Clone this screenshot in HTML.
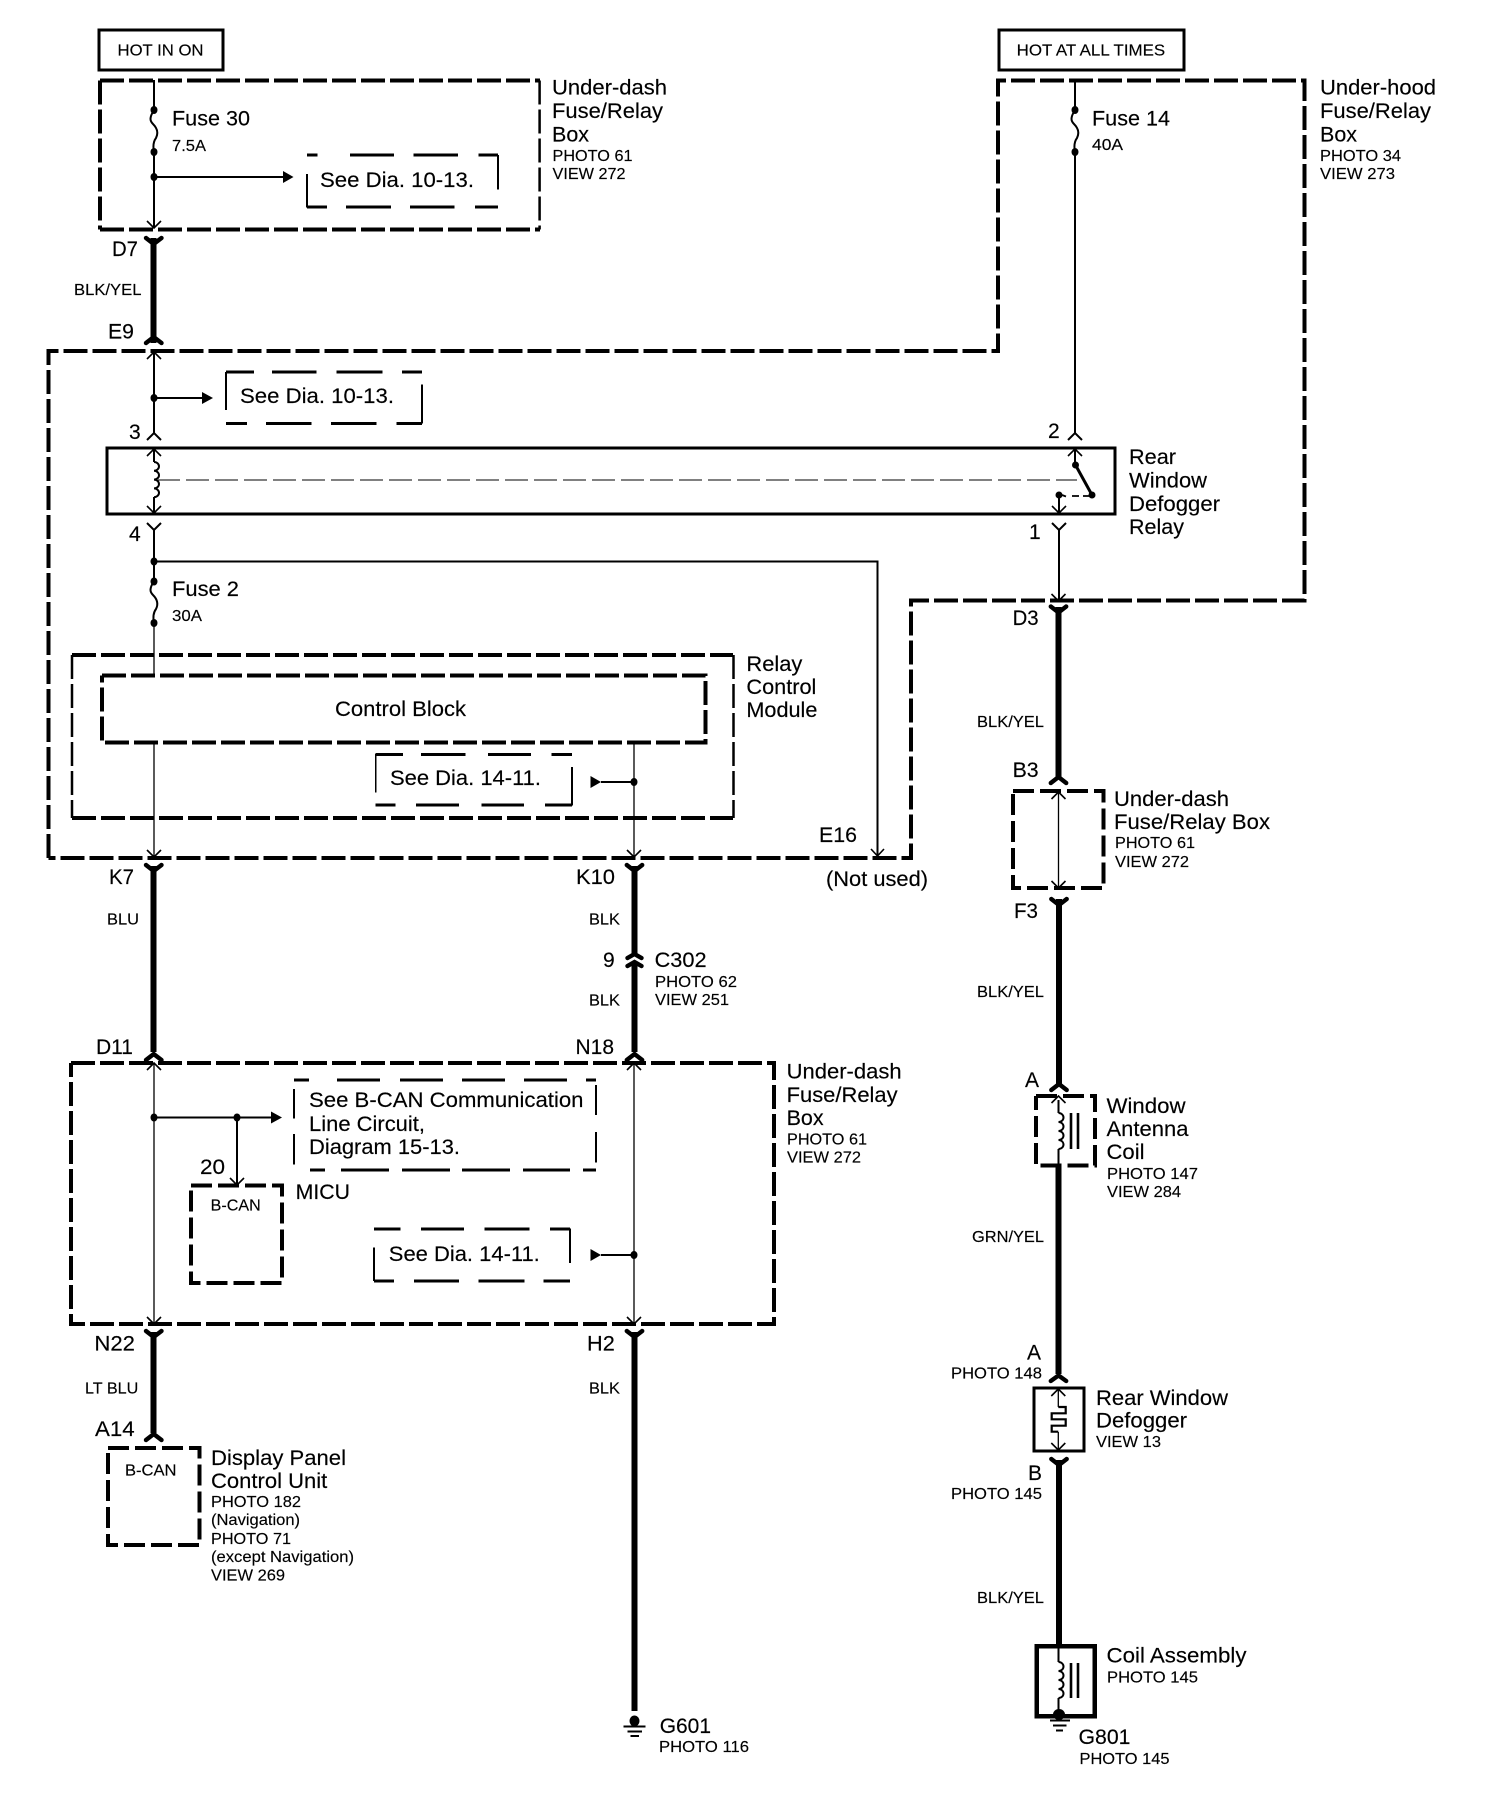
<!DOCTYPE html>
<html><head><meta charset="utf-8"><style>
html,body{margin:0;padding:0;background:#fff}
svg{display:block}
text{font-family:"Liberation Sans",sans-serif;fill:#000;stroke:#000;stroke-width:.15}
.b{font-size:21px;transform:translateX(-1px)}.s{font-size:16px}.m{font-size:16px}
.w{fill:none;stroke:#000}
</style></head><body>
<svg xmlns="http://www.w3.org/2000/svg" width="1504" height="1798" viewBox="0 0 1504 1798">
<rect width="1504" height="1798" fill="#fff"/>
<!-- plain boxes -->
<g class="w" stroke-width="3.2" shape-rendering="crispEdges">
<rect x="99" y="30" width="124" height="40"/>
<rect x="999" y="30" width="185" height="40"/>
<rect x="107" y="448" width="1008" height="66"/>
<rect x="1034" y="1388" width="50" height="63"/>
</g>
<rect class="w" x="1036.5" y="1646" width="58" height="70" stroke-width="4.5" shape-rendering="crispEdges"/>
<!-- big dashed boxes -->
<g class="w" stroke-width="4" stroke-dasharray="24 5">
<path d="M100 80.5H540"/><path d="M100 229.5H540"/><path d="M100 80.5V229.5"/>
<path d="M539.6 80.5V229.5" stroke-width="2.5"/>
<path d="M48.5 858V351H998V80.5H1304.5V600.5H911V858H48.5"/>
<path d="M72 655H733"/><path d="M72 818H733"/><path d="M72 655V818" stroke-width="2.5"/><path d="M733.5 655V818" stroke-width="2.5"/>
<path d="M102 675.5H705.5V742.5H102V675.5"/>
<path d="M71 1063H774V1324H71V1063"/>
</g>
<g class="w" stroke-width="4" stroke-dasharray="21 6">
<path d="M1013 791H1103.5V888H1013V791"/>
<path d="M191 1185.5H282V1283H191V1185.5"/>
<path d="M108 1448H199.5V1545H108V1448"/>
<path d="M1036 1096H1095V1165.5H1036V1096"/>
</g>
<!-- thin dashed See Dia boxes -->
<g class="w" stroke-width="2.6" shape-rendering="crispEdges">
<path d="M307 155H317.5M350 155H394M413.4 155H458M478.6 155H498M307 207H327M346 207H391M410 207H454.7M474.8 207H498"/>
<path d="M226 372H254M272 372H316.5M336.7 372H382.7M402 372H422M226 423.5H247M266 423.5H311.7M331 423.5H376.5M396.6 423.5H422"/>
<path d="M375.6 754.5H403M421 754.5H465.5M488 754.5H531M551.7 754.5H572M375.6 805H395.4M415.8 805H459M481.5 805H524M545 805H572"/>
<path d="M294 1080H309M337 1080H380M400 1080H443M462 1080H505M524 1080H567M586 1080H596M310 1170H325M341 1170H389M402 1170H450M462 1170H510M523 1170H570M583 1170H596"/>
<path d="M374 1229H400.5M421 1229H464M484.7 1229H529.6M550 1229H570M374 1281H394M414 1281H459M478.6 1281H524.5M543.4 1281H570"/>
</g>
<g class="w" stroke-width="1.6" shape-rendering="crispEdges">
<path d="M307 174V207.5M498 155V189.5"/>
<path d="M226 372V410M422 384.6V423.6"/>
<path d="M375.6 754V792.5M572 767V805.5"/>
<path d="M294 1089V1118.6M294 1134V1164.5M596 1085V1115M596 1132V1162.5"/>
<path d="M374 1247.7V1281M570 1228.6V1263"/>
</g>
<!-- thick wires -->
<g class="w" stroke-width="6" shape-rendering="crispEdges">
<path d="M153.7 238V343M153.7 866V1052M634.5 866V954M634.5 962V1052M153.7 1332V1433M634.5 1332V1711"/>
<path d="M1058.5 607V777M1059 899V1085M1058.5 1166V1374M1059 1460V1646"/>
</g>
<!-- thin wires -->
<g class="w" stroke-width="2">
<path d="M154 80V110M154 152V228M154 177H285"/>
<path d="M154 352V433M154 398H204"/>
<path d="M154 449V462M154 497V512M154 529V581M154 561.5H877.5V855"/>
<path d="M1075 80V110M1075 152V433M1075 449V465"/>
<path d="M1059 497V512M1059 529V600"/>
<path d="M154 1117.5H273M237 1117.5V1184"/>
<path d="M601 782H634M601 1255H634"/>
<path d="M1058.5 1100V1113M1058.5 1149V1166"/>
<path d="M1058.5 1646V1662M1058.5 1698V1716"/>
</g>
<g class="w" stroke-width="1.3">
<path d="M154 623V675M154 742V856M634 742V856M154 1064V1322M634 1064V1322M1058.5 792V886"/>
<path d="M1058.3 1390V1407M1058.3 1432V1450"/>
</g>
<!-- fuses -->
<g class="w" stroke-width="2">
<path d="M154 110C149 118 150 121 153 124C158 129 158 134 156 138C153 142 153 147 154 152"/>
<path d="M1075 110C1070 118 1071 121 1074 124C1079 129 1079 134 1077 138C1074 142 1074 147 1075 152"/>
<path d="M154 581C149 589 150 592 153 595C158 600 158 605 156 609C153 613 153 618 154 623"/>
<path d="M154 462a5 4.4 0 0 1 0 8.8a5 4.4 0 0 1 0 8.8a5 4.4 0 0 1 0 8.8a5 4.4 0 0 1 0 8.8"/>
<path d="M1058.5 1113a5 4.5 0 0 1 0 9a5 4.5 0 0 1 0 9a5 4.5 0 0 1 0 9a5 4.5 0 0 1 0 9"/>
<path d="M1058.5 1662a5 4.5 0 0 1 0 9a5 4.5 0 0 1 0 9a5 4.5 0 0 1 0 9a5 4.5 0 0 1 0 9"/>
<path stroke-width="2.2" d="M1058.3 1407H1065.7V1413.3H1051.7V1419.3H1065.7V1425.7H1051.7V1431.7H1058.3"/>
</g>
<g class="w" stroke-width="2.6">
<path d="M1071 1113V1149M1078 1113V1149M1071 1663V1698M1078 1663V1698"/>
</g>
<!-- dots -->
<g fill="#000">
<ellipse cx="154" cy="110" rx="3.5" ry="4"/><ellipse cx="154" cy="152" rx="3.5" ry="4"/><ellipse cx="154" cy="177" rx="3.5" ry="4"/>
<ellipse cx="154" cy="398" rx="3.5" ry="4"/><ellipse cx="154" cy="561.5" rx="3.5" ry="4"/><ellipse cx="154" cy="581.5" rx="3.5" ry="4"/><ellipse cx="154" cy="623" rx="3.5" ry="4"/>
<ellipse cx="1075" cy="110" rx="3.5" ry="4"/><ellipse cx="1075" cy="152" rx="3.5" ry="4"/>
<circle cx="1075.5" cy="465" r="3.5"/><circle cx="1092" cy="495" r="3.5"/><circle cx="1059" cy="495" r="3.5"/>
<ellipse cx="634" cy="782" rx="3.5" ry="4"/><ellipse cx="634" cy="1255" rx="3.5" ry="4"/>
<ellipse cx="154" cy="1117.5" rx="3.5" ry="4"/><ellipse cx="237" cy="1117.5" rx="3.5" ry="4"/>
<ellipse cx="634.5" cy="1721" rx="5" ry="5.5"/><ellipse cx="1059" cy="1714.5" rx="6" ry="5.5"/>
<!-- filled arrows -->
<path d="M293.5 177L283 171V183Z"/><path d="M213 398L202 392V404Z"/><path d="M282 1117.5L271 1111.5V1123.5Z"/>
<path d="M601 782L590.5 776V788Z"/><path d="M601 1255L590.5 1249V1261Z"/>
</g>
<!-- switch -->
<path class="w" stroke-width="3" d="M1075.5 465L1092 495"/>
<path class="w" stroke-width="1.8" d="M1062 495l4 1.5M1072 496h7M1083 496h6"/>
<path class="w" stroke-width="1.1" d="M158 480H180M186 480H209M215 480H238M244 480H267M273 480H296M302 480H325M331 480H354M360 480H383M389 480H412M418 480H441M447 480H470M476 480H499M505 480H528M534 480H557M563 480H586M592 480H615M621 480H644M650 480H673M679 480H702M708 480H731M737 480H760M766 480H789M795 480H818M824 480H847M853 480H876M882 480H905M911 480H934M940 480H963M969 480H992M998 480H1021M1027 480H1050M1056 480H1077"/>
<!-- ground -->
<g class="w" stroke-width="2.2" shape-rendering="crispEdges">
<path d="M623.5 1726.5H645.5M627.5 1731.5H642M630.6 1736H639"/>
<path d="M1050 1720.5H1070M1053 1725.5H1066.5M1056 1730.5H1063"/>
</g>
<!-- thick connector forks -->
<g class="w" stroke-width="4.4" stroke-linecap="round">
<path d="M146 238L153.7 244L161.5 238"/><path d="M146 865L153.7 871L161.5 865"/><path d="M626.8 865L634.5 871L642.2 865"/>
<path d="M146 1331L153.7 1337L161.5 1331"/><path d="M626.8 1331L634.5 1337L642.2 1331"/>
<path d="M1050.8 606.5L1058.5 612.5L1066.2 606.5"/><path d="M1051.3 899L1059 905L1066.7 899"/><path d="M1051.3 1459L1059 1465L1066.7 1459"/>
<path d="M146 343L153.7 337L161.5 343"/><path d="M146 1060L153.7 1054L161.5 1060"/><path d="M626.8 1060L634.5 1054L642.2 1060"/>
<path d="M146 1440L153.7 1434L161.5 1440"/>
<path d="M627.5 958L634.5 954L641.5 958"/><path d="M627.5 966L634.5 962L641.5 966"/>
<path d="M1050.8 783L1058.5 777L1066.2 783"/><path d="M1051.3 1090L1059 1084L1066.7 1090"/><path d="M1050.8 1381L1058.5 1375.5L1066.2 1381"/>
</g>
<!-- thin chevrons -->
<g class="w" stroke-width="2">
<path d="M147 440L154 433L161 440"/><path d="M1068 440L1075 433L1082 440"/>
<path d="M147 523L154 530L161 523"/><path d="M1052 523L1059 530L1066 523"/>
</g>
<!-- inner arrows -->
<g class="w" stroke-width="1.6">
<path d="M147 221L154 228L161 221"/><path d="M147 359L154 352L161 359"/>
<path d="M147 456L154 449L161 456"/><path d="M147 506L154 513L161 506"/>
<path d="M1068 456L1075 449L1082 456"/><path d="M1052 506L1059 513L1066 506"/>
<path d="M1051.5 594L1058.5 601L1065.5 594"/>
<path d="M871 849L877.5 856L884 849"/>
<path d="M147 850L154 857L161 850"/><path d="M627 850L634 857L641 850"/>
<path d="M147 1070L154 1063L161 1070"/><path d="M627 1070L634 1063L641 1070"/>
<path d="M147 1317L154 1324L161 1317"/><path d="M627 1317L634 1324L641 1317"/>
<path d="M230 1178L237 1185L244 1178"/>
<path d="M1051.5 799L1058.5 792L1065.5 799"/><path d="M1051.5 881L1058.5 888L1065.5 881"/>
<path d="M1051.5 1103L1058.5 1096L1065.5 1103"/>
<path d="M1051.3 1396L1058.3 1389L1065.3 1396"/><path d="M1051.3 1443L1058.3 1450L1065.3 1443"/>
</g>
<!-- text -->
<text class="s" x="117.5" y="55.5" textLength="86" lengthAdjust="spacingAndGlyphs">HOT IN ON</text>
<text class="s" x="1016.7" y="55.5" textLength="148.5" lengthAdjust="spacingAndGlyphs">HOT AT ALL TIMES</text>
<text class="b" x="173" y="125.5" textLength="78" lengthAdjust="spacingAndGlyphs">Fuse 30</text>
<text class="s" x="172" y="151" textLength="34" lengthAdjust="spacingAndGlyphs">7.5A</text>
<text class="b" x="321" y="187" textLength="154" lengthAdjust="spacingAndGlyphs">See Dia. 10-13.</text>
<text class="b" x="553" y="94.5" textLength="115" lengthAdjust="spacingAndGlyphs">Under-dash</text>
<text class="b" x="553" y="118" textLength="111" lengthAdjust="spacingAndGlyphs">Fuse/Relay</text>
<text class="b" x="553" y="141.5" textLength="37" lengthAdjust="spacingAndGlyphs">Box</text>
<text class="s" x="552.5" y="161" textLength="80" lengthAdjust="spacingAndGlyphs">PHOTO 61</text>
<text class="s" x="552.5" y="179" textLength="73" lengthAdjust="spacingAndGlyphs">VIEW 272</text>
<text class="b" x="113" y="256" textLength="26" lengthAdjust="spacingAndGlyphs">D7</text>
<text class="s" x="74" y="295" textLength="67.5" lengthAdjust="spacingAndGlyphs">BLK/YEL</text>
<text class="b" x="109" y="338.5" textLength="26" lengthAdjust="spacingAndGlyphs">E9</text>
<text class="b" x="241" y="403" textLength="154" lengthAdjust="spacingAndGlyphs">See Dia. 10-13.</text>
<text class="b" x="130" y="439">3</text>
<text class="b" x="1049" y="438">2</text>
<text class="b" x="130" y="541">4</text>
<text class="b" x="1030" y="539">1</text>
<text class="b" x="173" y="596" textLength="67" lengthAdjust="spacingAndGlyphs">Fuse 2</text>
<text class="s" x="172" y="621" textLength="30" lengthAdjust="spacingAndGlyphs">30A</text>
<text class="b" x="1093" y="125.5" textLength="78" lengthAdjust="spacingAndGlyphs">Fuse 14</text>
<text class="s" x="1092" y="150" textLength="31" lengthAdjust="spacingAndGlyphs">40A</text>
<text class="b" x="1321" y="94.5" textLength="116" lengthAdjust="spacingAndGlyphs">Under-hood</text>
<text class="b" x="1321" y="118" textLength="111" lengthAdjust="spacingAndGlyphs">Fuse/Relay</text>
<text class="b" x="1321" y="141.5" textLength="37" lengthAdjust="spacingAndGlyphs">Box</text>
<text class="s" x="1320" y="161" textLength="81" lengthAdjust="spacingAndGlyphs">PHOTO 34</text>
<text class="s" x="1320" y="179" textLength="75" lengthAdjust="spacingAndGlyphs">VIEW 273</text>
<text class="b" x="1130" y="464" textLength="47" lengthAdjust="spacingAndGlyphs">Rear</text>
<text class="b" x="1130" y="487.5" textLength="78" lengthAdjust="spacingAndGlyphs">Window</text>
<text class="b" x="1130" y="511" textLength="91" lengthAdjust="spacingAndGlyphs">Defogger</text>
<text class="b" x="1130" y="534" textLength="55" lengthAdjust="spacingAndGlyphs">Relay</text>
<text class="b" x="336" y="716" textLength="131" lengthAdjust="spacingAndGlyphs">Control Block</text>
<text class="b" x="747.4" y="670.8" textLength="56" lengthAdjust="spacingAndGlyphs">Relay</text>
<text class="b" x="747.4" y="694" textLength="70" lengthAdjust="spacingAndGlyphs">Control</text>
<text class="b" x="747.4" y="717" textLength="71" lengthAdjust="spacingAndGlyphs">Module</text>
<text class="b" x="391" y="785" textLength="151" lengthAdjust="spacingAndGlyphs">See Dia. 14-11.</text>
<text class="b" x="820" y="842" textLength="38" lengthAdjust="spacingAndGlyphs">E16</text>
<text class="b" x="827" y="886" textLength="102" lengthAdjust="spacingAndGlyphs">(Not used)</text>
<text class="b" x="110" y="884" textLength="25" lengthAdjust="spacingAndGlyphs">K7</text>
<text class="s" x="107" y="924.5" textLength="32" lengthAdjust="spacingAndGlyphs">BLU</text>
<text class="b" x="577" y="884" textLength="39" lengthAdjust="spacingAndGlyphs">K10</text>
<text class="s" x="589" y="924.5" textLength="31" lengthAdjust="spacingAndGlyphs">BLK</text>
<text class="b" x="604" y="967">9</text>
<text class="b" x="655.6" y="967" textLength="52" lengthAdjust="spacingAndGlyphs">C302</text>
<text class="s" x="655" y="987" textLength="82" lengthAdjust="spacingAndGlyphs">PHOTO 62</text>
<text class="s" x="655" y="1005" textLength="74" lengthAdjust="spacingAndGlyphs">VIEW 251</text>
<text class="s" x="589" y="1005.5" textLength="31" lengthAdjust="spacingAndGlyphs">BLK</text>
<text class="b" x="97" y="1054" textLength="37" lengthAdjust="spacingAndGlyphs">D11</text>
<text class="b" x="576.5" y="1054" textLength="38.5" lengthAdjust="spacingAndGlyphs">N18</text>
<text class="b" x="787.6" y="1078.4" textLength="115" lengthAdjust="spacingAndGlyphs">Under-dash</text>
<text class="b" x="787.6" y="1102" textLength="111" lengthAdjust="spacingAndGlyphs">Fuse/Relay</text>
<text class="b" x="787.6" y="1125" textLength="37" lengthAdjust="spacingAndGlyphs">Box</text>
<text class="s" x="787" y="1144.6" textLength="80" lengthAdjust="spacingAndGlyphs">PHOTO 61</text>
<text class="s" x="787" y="1162.6" textLength="74" lengthAdjust="spacingAndGlyphs">VIEW 272</text>
<text class="b" x="310" y="1107" textLength="274.5" lengthAdjust="spacingAndGlyphs">See B-CAN Communication</text>
<text class="b" x="310" y="1131" textLength="116" lengthAdjust="spacingAndGlyphs">Line Circuit,</text>
<text class="b" x="310" y="1154" textLength="151" lengthAdjust="spacingAndGlyphs">Diagram 15-13.</text>
<text class="b" x="201" y="1174" textLength="25" lengthAdjust="spacingAndGlyphs">20</text>
<text class="b" x="296.6" y="1199" textLength="54.4" lengthAdjust="spacingAndGlyphs">MICU</text>
<text class="s" x="210.7" y="1210.7" textLength="50" lengthAdjust="spacingAndGlyphs">B-CAN</text>
<text class="b" x="389.8" y="1261" textLength="151" lengthAdjust="spacingAndGlyphs">See Dia. 14-11.</text>
<text class="b" x="95.4" y="1350.6" textLength="40.6" lengthAdjust="spacingAndGlyphs">N22</text>
<text class="b" x="588" y="1350.6" textLength="27.8" lengthAdjust="spacingAndGlyphs">H2</text>
<text class="s" x="85" y="1393.7" textLength="53.3" lengthAdjust="spacingAndGlyphs">LT BLU</text>
<text class="s" x="589" y="1393.7" textLength="31" lengthAdjust="spacingAndGlyphs">BLK</text>
<text class="b" x="96" y="1435.8" textLength="39.7" lengthAdjust="spacingAndGlyphs">A14</text>
<text class="s" x="125" y="1475.4" textLength="51.5" lengthAdjust="spacingAndGlyphs">B-CAN</text>
<text class="b" x="212" y="1465" textLength="135" lengthAdjust="spacingAndGlyphs">Display Panel</text>
<text class="b" x="212" y="1488" textLength="116.3" lengthAdjust="spacingAndGlyphs">Control Unit</text>
<text class="s" x="211" y="1507" textLength="90" lengthAdjust="spacingAndGlyphs">PHOTO 182</text>
<text class="s" x="211" y="1525" textLength="89" lengthAdjust="spacingAndGlyphs">(Navigation)</text>
<text class="s" x="211" y="1544" textLength="80" lengthAdjust="spacingAndGlyphs">PHOTO 71</text>
<text class="s" x="211" y="1562" textLength="143" lengthAdjust="spacingAndGlyphs">(except Navigation)</text>
<text class="s" x="211" y="1580.6" textLength="74" lengthAdjust="spacingAndGlyphs">VIEW 269</text>
<text class="b" x="660.7" y="1733" textLength="51.3" lengthAdjust="spacingAndGlyphs">G601</text>
<text class="s" x="659" y="1752" textLength="90" lengthAdjust="spacingAndGlyphs">PHOTO 116</text>
<text class="b" x="1013.6" y="625" textLength="26" lengthAdjust="spacingAndGlyphs">D3</text>
<text class="s" x="977" y="727" textLength="67" lengthAdjust="spacingAndGlyphs">BLK/YEL</text>
<text class="b" x="1013.6" y="777" textLength="26" lengthAdjust="spacingAndGlyphs">B3</text>
<text class="b" x="1115" y="806" textLength="115" lengthAdjust="spacingAndGlyphs">Under-dash</text>
<text class="b" x="1115" y="829" textLength="156" lengthAdjust="spacingAndGlyphs">Fuse/Relay Box</text>
<text class="s" x="1115" y="848" textLength="80" lengthAdjust="spacingAndGlyphs">PHOTO 61</text>
<text class="s" x="1115" y="867" textLength="74" lengthAdjust="spacingAndGlyphs">VIEW 272</text>
<text class="b" x="1015" y="918" textLength="24" lengthAdjust="spacingAndGlyphs">F3</text>
<text class="s" x="977" y="997" textLength="67" lengthAdjust="spacingAndGlyphs">BLK/YEL</text>
<text class="b" x="1026" y="1087">A</text>
<text class="b" x="1107.5" y="1113" textLength="79" lengthAdjust="spacingAndGlyphs">Window</text>
<text class="b" x="1107.5" y="1136" textLength="82" lengthAdjust="spacingAndGlyphs">Antenna</text>
<text class="b" x="1107.5" y="1159" textLength="38" lengthAdjust="spacingAndGlyphs">Coil</text>
<text class="s" x="1107" y="1179" textLength="91" lengthAdjust="spacingAndGlyphs">PHOTO 147</text>
<text class="s" x="1107" y="1197" textLength="74" lengthAdjust="spacingAndGlyphs">VIEW 284</text>
<text class="s" x="972" y="1242" textLength="72" lengthAdjust="spacingAndGlyphs">GRN/YEL</text>
<text class="b" x="1028" y="1359.5">A</text>
<text class="s" x="951" y="1378.5" textLength="91" lengthAdjust="spacingAndGlyphs">PHOTO 148</text>
<text class="b" x="1097" y="1405" textLength="132" lengthAdjust="spacingAndGlyphs">Rear Window</text>
<text class="b" x="1097" y="1427.7" textLength="91" lengthAdjust="spacingAndGlyphs">Defogger</text>
<text class="s" x="1096" y="1447" textLength="65" lengthAdjust="spacingAndGlyphs">VIEW 13</text>
<text class="b" x="1029" y="1480">B</text>
<text class="s" x="951" y="1499" textLength="91" lengthAdjust="spacingAndGlyphs">PHOTO 145</text>
<text class="s" x="977" y="1603" textLength="67" lengthAdjust="spacingAndGlyphs">BLK/YEL</text>
<text class="b" x="1107.5" y="1662.6" textLength="140" lengthAdjust="spacingAndGlyphs">Coil Assembly</text>
<text class="s" x="1107" y="1682.5" textLength="91" lengthAdjust="spacingAndGlyphs">PHOTO 145</text>
<text class="b" x="1079.5" y="1744" textLength="52" lengthAdjust="spacingAndGlyphs">G801</text>
<text class="s" x="1079.5" y="1764" textLength="90" lengthAdjust="spacingAndGlyphs">PHOTO 145</text>
</svg>
</body></html>
